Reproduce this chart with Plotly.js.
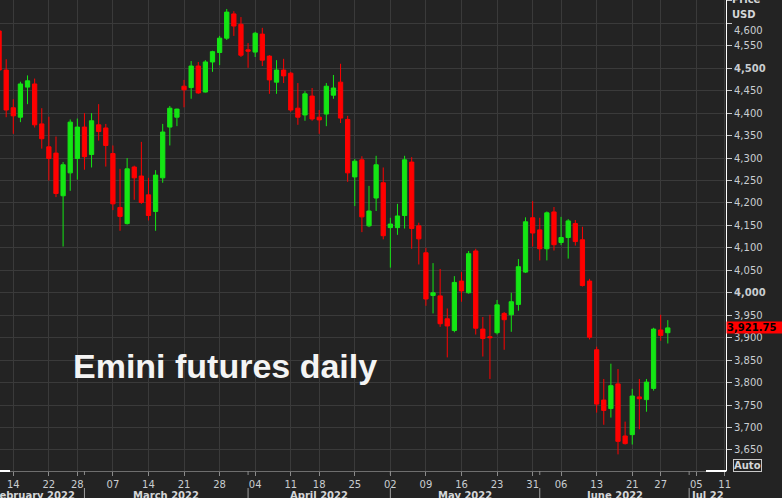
<!DOCTYPE html>
<html>
<head>
<meta charset="utf-8">
<script src="https://cdn.plot.ly/plotly-3.0.1.min.js"></script>
<style>
html,body{margin:0;padding:0;background:#232323;overflow:hidden;}
#chart{width:782px;height:498px;}
</style>
</head>
<body>
<div id="chart"></div>
<script>
// ---- Data (Emini S&P futures, daily) ----
const dates = [
'2022-02-10','2022-02-11','2022-02-14','2022-02-15','2022-02-16','2022-02-17','2022-02-18',
'2022-02-22','2022-02-23','2022-02-24','2022-02-25','2022-02-28',
'2022-03-01','2022-03-02','2022-03-03','2022-03-04',
'2022-03-07','2022-03-08','2022-03-09','2022-03-10','2022-03-11',
'2022-03-14','2022-03-15','2022-03-16','2022-03-17','2022-03-18',
'2022-03-21','2022-03-22','2022-03-23','2022-03-24','2022-03-25',
'2022-03-28','2022-03-29','2022-03-30','2022-03-31','2022-04-01',
'2022-04-04','2022-04-05','2022-04-06','2022-04-07','2022-04-08',
'2022-04-11','2022-04-12','2022-04-13','2022-04-14',
'2022-04-18','2022-04-19','2022-04-20','2022-04-21','2022-04-22',
'2022-04-25','2022-04-26','2022-04-27','2022-04-28','2022-04-29',
'2022-05-02','2022-05-03','2022-05-04','2022-05-05','2022-05-06',
'2022-05-09','2022-05-10','2022-05-11','2022-05-12','2022-05-13',
'2022-05-16','2022-05-17','2022-05-18','2022-05-19','2022-05-20',
'2022-05-23','2022-05-24','2022-05-25','2022-05-26','2022-05-27',
'2022-05-31','2022-06-01','2022-06-02','2022-06-03',
'2022-06-06','2022-06-07','2022-06-08','2022-06-09','2022-06-10',
'2022-06-13','2022-06-14','2022-06-15','2022-06-16','2022-06-17',
'2022-06-21','2022-06-22','2022-06-23','2022-06-24',
'2022-06-27','2022-06-28'];

const open = [4583,4496,4412,4391,4458,4465,4376, 4325,4311,4216,4267,4299, 4369,4308,4374,4367,
 4310,4190,4154,4280,4260, 4218,4181,4256,4369,4391, 4460,4457,4505,4447,4514,
 4535,4567,4621,4598,4541, 4536,4576,4527,4469,4496, 4489,4411,4396,4438,
 4391,4398,4440,4469,4386, 4258,4296,4149,4211,4245, 4145,4145,4172,4291,4149,
 4089,3994,3993,3942,3916, 4026,4000,4093,3919,3902, 3911,3954,3951,3974,4046,
 4167,4140,4098,4180, 4112,4123,4154,4118,4026, 3873,3761,3742,3797,3681,
 3684,3768,3762,3787, 3917,3911];

const high = [4590,4520,4431,4470,4484,4477,4411, 4392,4348,4291,4386,4388, 4400,4400,4420,4376,
 4328,4276,4300,4283,4336, 4256,4273,4376,4416,4410, 4474,4516,4514,4518,4539,
 4572,4632,4627,4614,4556, 4581,4590,4529,4518,4521, 4492,4467,4449,4456,
 4407,4467,4485,4510,4394, 4298,4304,4238,4305,4279, 4167,4198,4305,4302,4156,
 4100,4066,4053,3965,4037, 4046,4093,4098,3946,3951, 3984,3957,4000,4075,4168,
 4204,4167,4181,4191, 4169,4164,4162,4147,4031, 3880,3808,3842,3830,3713,
 3786,3808,3808,3922, 3951,3939];

const low = [4492,4391,4354,4380,4420,4368,4321, 4250,4213,4103,4227,4252, 4274,4279,4339,4281,
 4184,4138,4152,4207,4198, 4161,4138,4245,4328,4371, 4413,4432,4443,4446,4492,
 4507,4563,4572,4525,4501, 4525,4505,4443,4443,4467, 4403,4374,4383,4383,
 4354,4371,4432,4378,4247, 4193,4135,4146,4182,4119, 4056,4129,4143,4098,4063,
 3971,3954,3924,3856,3912, 3980,3998,3907,3858,3808, 3907,3873,3913,3960,4044,
 4103,4072,4072,4094, 4106,4076,4105,4014,3896, 3733,3706,3722,3640,3662,
 3662,3696,3735,3782, 3893,3887];

const close = [4496,4407,4394,4465,4472,4374,4343, 4299,4221,4285,4380,4369, 4303,4383,4359,4328,
 4198,4170,4276,4256,4201, 4172,4262,4358,4411,4409, 4452,4505,4445,4514,4537,
 4567,4625,4594,4529,4538, 4578,4518,4474,4496,4483, 4407,4391,4443,4387,
 4385,4460,4456,4389,4267, 4293,4169,4182,4285,4127, 4153,4171,4296,4143,4120,
 3986,4000,3931,3926,4023, 4004,4087,3921,3898,3900, 3973,3940,3980,4058,4158,
 4133,4098,4178,4107, 4123,4160,4114,4016,3901, 3752,3738,3793,3669,3664,
 3770,3764,3801,3919, 3905,3921.75];

// future trading sessions shown on the axis (no data)
const futureDays = ['2022-06-29','2022-06-30','2022-07-01','2022-07-05','2022-07-06','2022-07-07','2022-07-08','2022-07-11','2022-07-12'];

const xTickDates = ['2022-02-14','2022-02-22','2022-02-28','2022-03-07','2022-03-14','2022-03-21','2022-03-28',
 '2022-04-04','2022-04-11','2022-04-18','2022-04-25','2022-05-02','2022-05-09','2022-05-16','2022-05-23',
 '2022-05-31','2022-06-06','2022-06-13','2022-06-21','2022-06-27','2022-07-05','2022-07-11'];
const xTickLabels = ['14','22','28','07','14','21','28','04','11','18','25','02','09','16','23','31','06','13','21','27','05','11'];

const monthStarts = ['2022-03-01','2022-04-01','2022-05-02','2022-06-01','2022-07-01'];
const monthLabels = ['February 2022','March 2022','April 2022','May 2022','June 2022','Jul 22'];

const yTickValues = [3650,3700,3750,3800,3850,3900,3950,4000,4050,4100,4150,4200,4250,4300,4350,4400,4450,4500,4550,4600,4650];
const yTickLabels = ['3,650','3,700','3,750','3,800','3,850','3,900','3,950','<b>4,000</b>','4,050','4,100','4,150','4,200','4,250','4,300','4,350','4,400','4,450','<b>4,500</b>','4,550','',''];
const topTickLabel = '4,600';
const lastPrice = 3921.75;
const lastPriceLabel = '3,921.75';
const chartTitle = 'Emini futures daily';

// ---- Layout geometry ----
const W = 782, H = 498;
const margin = {l:0, r:56, t:0, b:27, pad:0};
const plotW = W - margin.l - margin.r;
const plotH = H - margin.t - margin.b;
const pxX = px => (px - margin.l) / plotW;
const pxY = py => (H - margin.b - py) / plotH;

const axisDays = dates.concat(futureDays);
const idx = d => axisDays.indexOf(d);
const xRange = [0.13, 102.18];

const tickFont = {family:'DejaVu Sans, Verdana, sans-serif', size:10, color:'#c9cdd1'};
const boldFont = {family:'DejaVu Sans, Verdana, sans-serif', size:10, color:'#d4d6d8'};
const grid = '#3a3a3a';

const trace = {
  type:'candlestick', x:dates, open:open, high:high, low:low, close:close,
  increasing:{line:{color:'#14e614', width:1}, fillcolor:'#14e614'},
  decreasing:{line:{color:'#ff0000', width:1}, fillcolor:'#ff0000'},
  whiskerwidth:0, hoverinfo:'skip', showlegend:false
};

const annotations = [];
annotations.push({text:'<b>'+chartTitle+'</b>', xref:'paper', yref:'paper', x:pxX(71), y:pxY(366),
  xanchor:'left', yanchor:'middle', showarrow:false,
  font:{family:'Liberation Sans, Arial, sans-serif', size:34, color:'#f4f4f4'}});

// month labels
const starts = [xRange[0]].concat(monthStarts.map(idx));
const ends = monthStarts.map(idx).concat([xRange[1]]);
monthLabels.forEach((lab, i) => {
  const a = {text:'<b>'+lab+'</b>', xref:'x', yref:'paper', y:pxY(488), yanchor:'top',
    showarrow:false, font:boldFont};
  if (i === 0) { a.x = idx(monthStarts[0]) - 1; a.xanchor = 'right'; }
  else { a.x = (starts[i] + ends[i]) / 2; a.xanchor = 'center'; }
  annotations.push(a);
});

annotations.push({text:'<b>Price</b>', xref:'paper', yref:'paper', x:pxX(730), y:pxY(-1), xanchor:'left', yanchor:'middle', showarrow:false, font:boldFont});
annotations.push({text:'<b>USD</b>', xref:'paper', yref:'paper', x:pxX(730), y:pxY(15), xanchor:'left', yanchor:'middle', showarrow:false, font:boldFont});
annotations.push({text:topTickLabel, xref:'paper', yref:'y', x:1, xshift:6, y:4600, yshift:-7, xanchor:'left', yanchor:'middle', showarrow:false, font:tickFont});
annotations.push({text:'<b>'+lastPriceLabel+'</b>', xref:'paper', yref:'y', x:1, y:lastPrice, xanchor:'left', yanchor:'middle',
  width:58, align:'left', showarrow:false, bgcolor:'#ff0000', borderpad:0,
  font:{family:'DejaVu Sans, Verdana, sans-serif', size:10, color:'#000000'}});
annotations.push({text:'<b>Auto</b>', xref:'paper', yref:'paper', x:pxX(733), y:pxY(465), xanchor:'left', yanchor:'middle',
  showarrow:false, bordercolor:'#c8c8c8', borderwidth:1, borderpad:0, font:boldFont});

const shapes = [];
monthStarts.forEach(d => {
  shapes.push({type:'line', xref:'x', yref:'paper', x0:d, x1:d, y0:0, y1:pxY(475), line:{color:'#8a8a8a', width:1}});
  shapes.push({type:'line', xref:'x', yref:'paper', x0:d, x1:d, y0:pxY(488), y1:pxY(500), line:{color:'#a0a0a0', width:1}});
});
shapes.push({type:'line', xref:'paper', yref:'paper', x0:0, x1:pxX(10), y0:0, y1:0, line:{color:'#ffffff', width:2}});
shapes.push({type:'line', xref:'paper', yref:'paper', x0:pxX(706), x1:1, y0:0, y1:0, line:{color:'#ffffff', width:2}});

const layout = {
  width:W, height:H, margin:margin,
  paper_bgcolor:'#232323', plot_bgcolor:'#232323',
  showlegend:false, dragmode:false, hovermode:false,
  boxgap:0.4, boxgroupgap:0,
  xaxis:{type:'category', categoryorder:'array', categoryarray:axisDays, range:xRange,
    rangeslider:{visible:false}, tickmode:'array', tickvals:xTickDates, ticktext:xTickLabels,
    ticks:'outside', ticklen:4, tickcolor:'#8a8a8a', tickfont:tickFont,
    showgrid:true, gridcolor:grid, gridwidth:1, zeroline:false,
    showline:true, linecolor:'#6e6e6e', linewidth:1, fixedrange:true, automargin:false},
  yaxis:{side:'right', range:[3603, 4652], tickmode:'array', tickvals:yTickValues, ticktext:yTickLabels,
    ticks:'outside', ticklen:5, tickcolor:'#c8c8c8', tickfont:tickFont,
    showgrid:true, gridcolor:grid, gridwidth:1, zeroline:false,
    showline:true, linecolor:'#ffffff', linewidth:1, fixedrange:true, automargin:false},
  annotations:annotations, shapes:shapes
};

Plotly.newPlot('chart', [trace], layout, {staticPlot:true, displayModeBar:false});
</script>
</body>
</html>
